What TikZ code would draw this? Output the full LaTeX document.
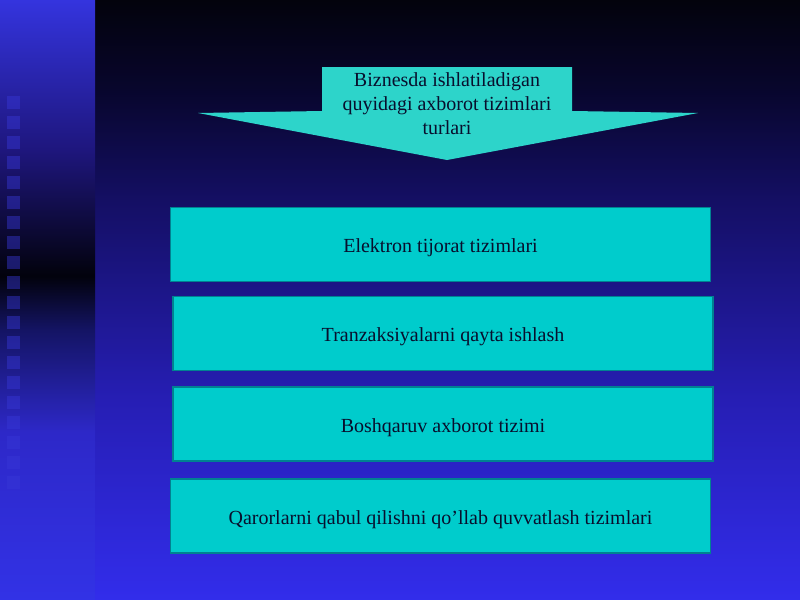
\documentclass[tikz,border=0pt]{standalone}
\usepackage{fontspec}
\setmainfont{Liberation Serif}

\definecolor{boxfill}{RGB}{0,204,204}
\definecolor{boxline}{RGB}{0,130,145}
\definecolor{arrowfill}{RGB}{45,212,202}
\definecolor{inktext}{RGB}{8,15,45}
\definecolor{tileblue}{RGB}{55,55,215}
% slide background, bottom to top
\definecolor{bgA}{RGB}{50,45,235}
\definecolor{bgB}{RGB}{38,30,180}
\definecolor{bgC}{RGB}{20,15,100}
\definecolor{bgD}{RGB}{8,6,45}
\definecolor{bgE}{RGB}{3,3,12}
% left strip, bottom to top
\definecolor{stA}{RGB}{50,50,230}
\definecolor{stB}{RGB}{45,40,200}
\definecolor{stC}{RGB}{20,20,100}
\definecolor{stD}{RGB}{2,2,12}
\definecolor{stE}{RGB}{30,22,125}
\definecolor{stF}{RGB}{52,52,222}

\pgfdeclareverticalshading{slidebg}{100bp}{color(0bp)=(bgA); color(25bp)=(bgA);
  color(41.7bp)=(bgB); color(58.3bp)=(bgC); color(67.5bp)=(bgD);
  color(75bp)=(bgE); color(100bp)=(bgE)}
\pgfdeclareverticalshading{stripbg}{100bp}{color(0bp)=(stA); color(25bp)=(stA);
  color(39bp)=(stB); color(47.5bp)=(stC); color(52bp)=(stD);
  color(62.5bp)=(stE); color(75bp)=(stF); color(100bp)=(stF)}

\begin{document}
\begin{tikzpicture}[x=0.75pt, y=-0.75pt,
  textfont/.style={font=\fontsize{15}{18}\selectfont, text=inktext},
  sysbox/.style={textfont, draw=boxline, line width=0.8pt, fill=boxfill,
    minimum width=405pt, minimum height=55.5pt, inner sep=0pt,
    text height=15.5pt, text depth=3.5pt},
  headtext/.style={textfont, align=center, inner sep=0pt}]
  \def\Xl{322};
  \def\Xr{572};
  \def\Ytop{67};
  \def\Ysh{111};
  \def\Xwl{198};
  \def\Xwr{698};
  \def\Ywg{113};
  \def\Xtip{447};
  \def\Ytip{160};
  \useasboundingbox (0,0) rectangle (800,600);

  % background
  \shade[shading=slidebg] (95,0) rectangle (800,600);
  \shade[shading=stripbg] (0,0) rectangle (95,600);
  \foreach \y in {96,116,...,476}
    \fill[tileblue, opacity=0.45] (7,\y) rectangle (20,\y+13);

  % arrow
  \fill[arrowfill] (\Xl,\Ytop) -- (\Xr,\Ytop) -- (\Xr,\Ysh) -- (\Xwr,\Ywg)
    -- (\Xtip,\Ytip) -- (\Xwl,\Ywg) -- (\Xl,\Ysh) -- cycle;
  \node[headtext] (head) at (\Xtip,104)
    {Biznesda ishlatiladigan\\quyidagi axborot tizimlari\\turlari};

  % systems
  \node[sysbox] (ecom) at (440.5,244.5) {Elektron tijorat tizimlari};
  \node[sysbox] (trans) at (443,333.5) {Tranzaksiyalarni qayta ishlash};
  \node[sysbox] (manage) at (443,424) {Boshqaruv axborot tizimi};
  \node[sysbox] (decide) at (440.5,516) {Qarorlarni qabul qilishni qo’llab quvvatlash tizimlari};

\end{tikzpicture}
\end{document}
